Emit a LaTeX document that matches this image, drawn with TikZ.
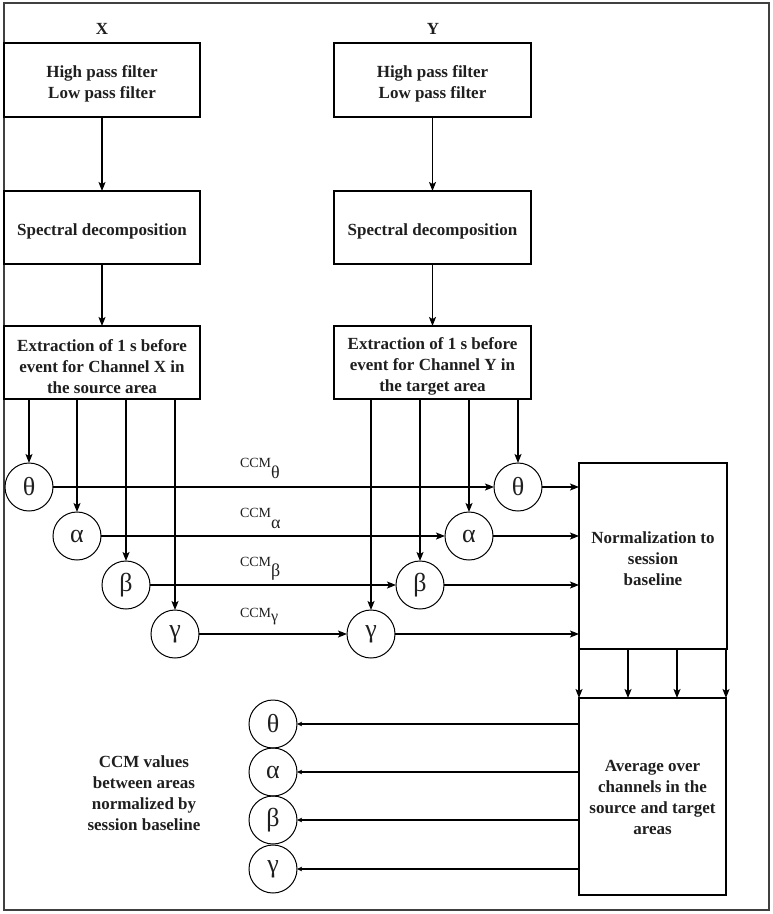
\documentclass[tikz,border=0pt]{standalone}
\usepackage{fontspec}
\setmainfont{Liberation Serif}
\usetikzlibrary{arrows.meta}
\begin{document}
\begin{tikzpicture}[x=1pt,y=-1pt,
  every node/.style={inner sep=0pt, outer sep=0pt, text=black!88},
  procbox/.style={draw, line width=1.1pt},
  boxtext/.style={align=center, font=\fontsize{17}{21}\selectfont\bfseries, inner sep=0pt},
  band/.style={draw, circle, line width=1pt, minimum size=48pt, font=\fontsize{26}{26}\selectfont},
  lbl/.style={font=\fontsize{17}{21}\selectfont\bfseries, align=center},
  ccm/.style={font=\fontsize{14}{14}\selectfont, anchor=base west},
  arr/.style={line width=1.1pt, -{Stealth[length=9pt,width=7pt,inset=2pt]}},
  smallarr/.style={line width=1.1pt, -{Stealth[length=5pt,width=4.5pt,inset=1pt]}}
]
\useasboundingbox (0,0) rectangle (773,914);
\draw[line width=1.5pt, black!75] (4,3) rectangle (769,910);

% column labels
\node[lbl] (lx) at (102,29) {X};
\node[lbl] (ly) at (433,29) {Y};

% X column
\node[procbox, minimum width=196pt, minimum height=74pt,
  label={[boxtext, yshift=-4pt]center:{High pass filter\\Low pass filter}}] (x1) at (102,80) {};
\node[procbox, minimum width=196pt, minimum height=73pt,
  label={[boxtext, yshift=-4pt]center:{Spectral decomposition}}] (x2) at (102,227.5) {};
\node[procbox, minimum width=196pt, minimum height=73pt,
  label={[boxtext, yshift=-4pt]center:{Extraction of 1 s before\\event for Channel X in\\the source area}}] (x3) at (102,362.5) {};
\draw[arr] (x1) -- (x2);
\draw[arr] (x2) -- (x3);

% Y column
\node[procbox, minimum width=197pt, minimum height=74pt,
  label={[boxtext, yshift=-4pt]center:{High pass filter\\Low pass filter}}] (y1) at (432.5,80) {};
\node[procbox, minimum width=197pt, minimum height=73pt,
  label={[boxtext, yshift=-4pt]center:{Spectral decomposition}}] (y2) at (432.5,227.5) {};
\node[procbox, minimum width=197pt, minimum height=73pt,
  label={[boxtext, yshift=-4pt]center:{Extraction of 1 s before\\event for Channel Y in\\the target area}}] (y3) at (432.5,362.5) {};
\draw[arr] (y1) -- (y2);
\draw[arr] (y2) -- (y3);

% source band circles
\node[band] (tX) at (29,487) {θ};
\node[band] (aX) at (77,536) {α};
\node[band] (bX) at (126,585) {β};
\node[band] (gX) at (175,634) {γ};

% target band circles
\node[band] (tY) at (518,487) {θ};
\node[band] (aY) at (469,536) {α};
\node[band] (bY) at (420,585) {β};
\node[band] (gY) at (371,634) {γ};

% feeds from extraction boxes
\foreach \c in {tX,aX,bX,gX}{\draw[arr] (\c.north |- x3.south) -- (\c.north);}
\foreach \c in {tY,aY,bY,gY}{\draw[arr] (\c.north |- y3.south) -- (\c.north);}

% CCM connections
\draw[arr] (tX) -- (tY);
\draw[arr] (aX) -- (aY);
\draw[arr] (bX) -- (bY);
\draw[arr] (gX) -- (gY);
\node[ccm] (ct) at (240,467) {CCM\raisebox{-11pt}{\fontsize{18}{18}\selectfont θ}};
\node[ccm] (ca) at (240,517) {CCM\raisebox{-11pt}{\fontsize{18}{18}\selectfont α}};
\node[ccm] (cb) at (240,566) {CCM\raisebox{-10pt}{\fontsize{18}{18}\selectfont β}};
\node[ccm] (cg) at (240,617) {CCM\raisebox{-4pt}{\fontsize{16}{16}\selectfont γ}};

% normalization
\node[procbox, minimum width=148pt, minimum height=186pt,
  label={[boxtext, yshift=-3pt]center:{Normalization to\\session\\baseline}}] (norm) at (653,556) {};
\foreach \c in {tY,aY,bY,gY}{\draw[arr] (\c.east) -- (\c.east -| norm.west);}

% average
\node[procbox, minimum width=147pt, minimum height=197pt,
  label={[boxtext, yshift=-1pt]center:{Average over\\channels in the\\source and target\\areas}}] (avg) at (652.5,796.5) {};
\draw[arr] (norm.south west) -- (avg.north west);
\draw[arr] ([xshift=49pt]norm.south west) -- ([xshift=49pt]avg.north west);
\draw[arr] ([xshift=98pt]norm.south west) -- ([xshift=98pt]avg.north west);
\draw[arr] ([xshift=147pt]norm.south west) -- ([xshift=147pt]avg.north west);

% result circles
\node[band] (tR) at (273,724) {θ};
\node[band] (aR) at (273,772) {α};
\node[band] (bR) at (273,820) {β};
\node[band] (gR) at (273,869) {γ};
\foreach \c in {tR,aR,bR,gR}{\draw[smallarr] (\c -| avg.west) -- (\c.east);}

\node[lbl] (note) at (144,793) {CCM values\\between areas\\normalized by\\session baseline};
\end{tikzpicture}
\end{document}
